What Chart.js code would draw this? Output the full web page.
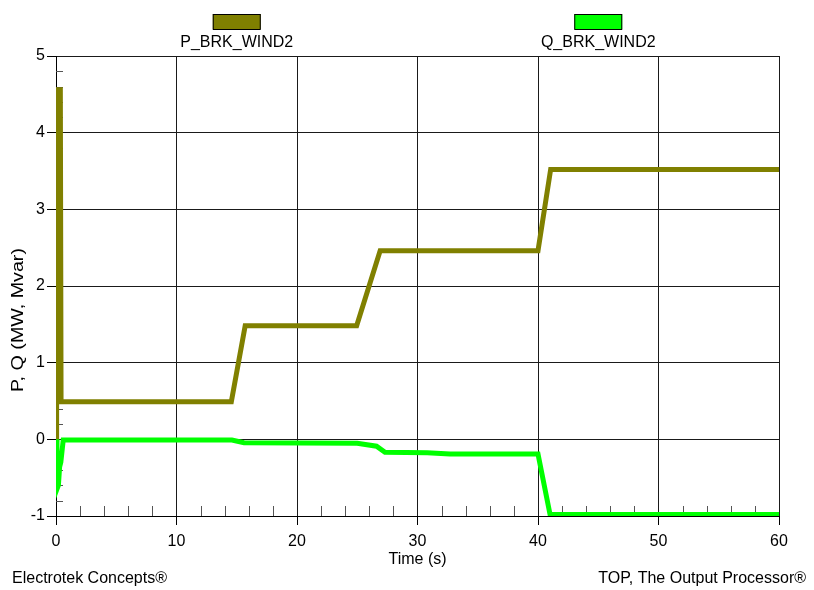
<!DOCTYPE html>
<html>
<head>
<meta charset="utf-8">
<script src="https://cdn.jsdelivr.net/npm/chart.js@4.4.1/dist/chart.umd.min.js"></script>
<style>
  html, body { margin: 0; padding: 0; background: #ffffff; }
  #wrap { width: 814px; height: 590px; position: relative; }
</style>
</head>
<body>
<div id="wrap"><canvas id="chart" width="814" height="590"></canvas></div>
<script>
// Active power of the wind plant breaker (MW) versus time (s)
const pTime  = [0, 0.05, 0.36, 0.42, 0.6, 14.55, 15.7, 24.95, 26.9, 40.0, 41.05, 60];
const pValue = [0, 4.56, 4.56, 0.49, 0.49, 0.49, 1.48, 1.48, 2.46, 2.46, 3.52, 3.52];

// Reactive power of the wind plant breaker (Mvar) versus time (s)
const qTime  = [0, 0.08, 0.2, 0.3, 0.4, 0.6, 14.6, 15.6, 25.0, 26.6, 27.3, 30.8, 32.7, 40.0, 41.0, 60];
const qValue = [0, -0.65, -0.6, -0.36, -0.3, -0.01, -0.01, -0.045, -0.05, -0.09, -0.17, -0.175, -0.19, -0.19, -0.98, -0.98];

// Series names
const seriesNames = ['P_BRK_WIND2', 'Q_BRK_WIND2'];

// Axis tick values
const xTickValues = [0, 10, 20, 30, 40, 50, 60];
const yTickValues = [-1, 0, 1, 2, 3, 4, 5];

// Axis titles and footer captions
const xTitle = 'Time (s)';
const yTitle = 'P, Q (MW, Mvar)';
const footerLeft = 'Electrotek Concepts\u00AE';
const footerRight = 'TOP, The Output Processor\u00AE';

const FONT = "'Liberation Sans', Arial, Helvetica, sans-serif";
const OLIVE = '#808000';
const LIME = '#00ff00';

function toPoints(xs, ys) {
  return xs.map((x, i) => ({ x: x, y: ys[i] }));
}

// Short inner tick marks between the labelled ticks, plus legend and captions
const decorations = {
  id: 'decorations',
  beforeDatasetsDraw(chart) {
    const { ctx, chartArea: a, scales: { x, y } } = chart;
    ctx.save();
    ctx.strokeStyle = '#555555';
    ctx.lineWidth = 1;
    ctx.beginPath();
    for (let t = 2; t < 60; t += 2) {
      if (t % 10 === 0) continue;
      const px = Math.round(x.getPixelForValue(t)) + 0.5;
      ctx.moveTo(px, a.bottom);
      ctx.lineTo(px, a.bottom - 10);
    }
    for (let k = -4; k < 25; k++) {
      if (k % 5 === 0) continue;
      const v = k / 5;
      const py = Math.round(y.getPixelForValue(v)) + 0.5;
      ctx.moveTo(a.left, py);
      ctx.lineTo(a.left + 7, py);
    }
    ctx.stroke();
    ctx.restore();
  },
  afterDraw(chart) {
    const { ctx, chartArea: a } = chart;
    ctx.save();
    ctx.font = '16px ' + FONT;
    ctx.fillStyle = '#000000';

    // legend: box above name, centred on quarter points of the plot
    const colors = [OLIVE, LIME];
    seriesNames.forEach((name, i) => {
      const cx = a.left + (a.right - a.left) * (i === 0 ? 0.25 : 0.75);
      ctx.fillStyle = colors[i];
      ctx.fillRect(cx - 24, 14, 48, 15);
      ctx.strokeStyle = '#000000';
      ctx.lineWidth = 1;
      ctx.strokeRect(cx - 23.5, 14.5, 47, 15);
      ctx.fillStyle = '#000000';
      ctx.textAlign = 'center';
      ctx.textBaseline = 'middle';
      ctx.fillText(name, cx, 43);
    });

    // x axis title
    ctx.textAlign = 'center';
    ctx.textBaseline = 'middle';
    ctx.fillText(xTitle, (a.left + a.right) / 2, 560);

    // y axis title, stretched along its length
    ctx.save();
    ctx.translate(19, 320);
    ctx.rotate(-Math.PI / 2);
    ctx.scale(1.23, 1);
    ctx.fillText(yTitle, 0, 0);
    ctx.restore();

    // footer captions
    ctx.textBaseline = 'middle';
    ctx.textAlign = 'left';
    ctx.fillText(footerLeft, 12, 579);
    ctx.textAlign = 'right';
    ctx.fillText(footerRight, 806, 579);
    ctx.restore();
  }
};

const gridCommon = {
  color: '#1a1a1a',
  lineWidth: 1,
  tickLength: 9,
  tickColor: '#000000',
  drawOnChartArea: true
};

new Chart(document.getElementById('chart'), {
  type: 'line',
  data: {
    datasets: [
      {
        label: seriesNames[0],
        data: toPoints(pTime, pValue),
        borderColor: OLIVE,
        backgroundColor: OLIVE,
        borderWidth: 5,
        pointRadius: 0,
        tension: 0,
        fill: false,
        order: 1
      },
      {
        label: seriesNames[1],
        data: toPoints(qTime, qValue),
        borderColor: LIME,
        backgroundColor: LIME,
        borderWidth: 5,
        pointRadius: 0,
        tension: 0,
        fill: false,
        order: 0
      }
    ]
  },
  options: {
    responsive: false,
    animation: false,
    devicePixelRatio: 1,
    layout: { padding: { left: 0, right: 35, top: 56, bottom: 0 } },
    plugins: {
      legend: { display: false },
      tooltip: { enabled: false },
      title: { display: false }
    },
    scales: {
      x: {
        type: 'linear',
        min: 0,
        max: 60,
        afterBuildTicks(scale) {
          scale.ticks = xTickValues.map(v => ({ value: v }));
        },
        afterFit(scale) { scale.height = 74; },
        grid: gridCommon,
        border: { display: true, color: '#000000', width: 1 },
        ticks: {
          color: '#000000',
          font: { family: FONT, size: 16 },
          padding: 7,
          maxRotation: 0,
          autoSkip: false
        },
        title: { display: false }
      },
      y: {
        type: 'linear',
        min: -1,
        max: 5,
        afterBuildTicks(scale) {
          scale.ticks = yTickValues.map(v => ({ value: v }));
        },
        afterFit(scale) { scale.width = 56; },
        grid: gridCommon,
        border: { display: true, color: '#000000', width: 1 },
        ticks: {
          color: '#000000',
          font: { family: FONT, size: 16 },
          padding: 2,
          autoSkip: false
        },
        title: { display: false }
      }
    }
  },
  plugins: [decorations]
});
</script>
</body>
</html>
